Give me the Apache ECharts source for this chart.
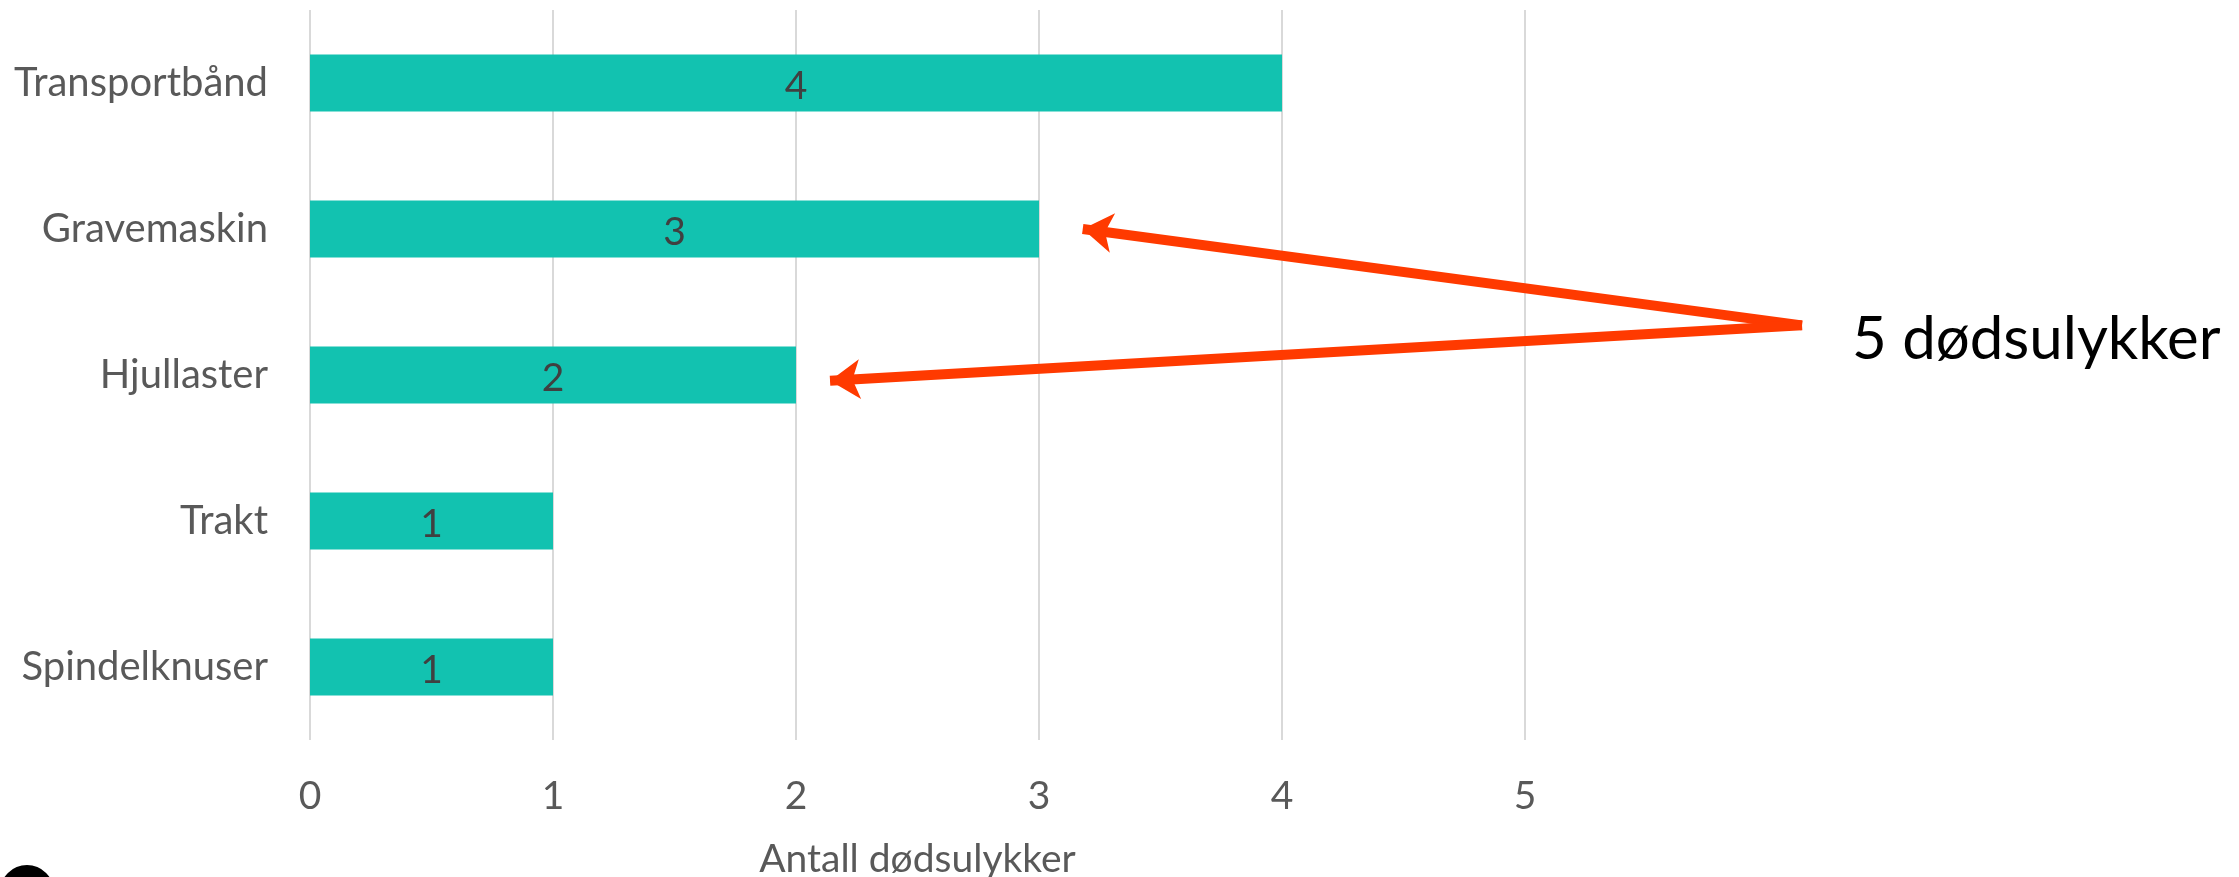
<!DOCTYPE html>
<html>
<head>
<meta charset="utf-8">
<script src="https://cdn.jsdelivr.net/npm/echarts@6/dist/echarts.min.js"></script>
<style>
html,body{margin:0;padding:0;background:#fff;}
#c{width:2239px;height:877px;}
</style>
</head>
<body>
<div id="c"></div>
<script>
const categories = ['Transportbånd', 'Gravemaskin', 'Hjullaster', 'Trakt', 'Spindelknuser'];
const values = [4, 3, 2, 1, 1];
const xMin = 0, xMax = 5, xInterval = 1;
const axisTitle = 'Antall dødsulykker';
const annotationText = '5 dødsulykker';
// arrows in data space: x value, y in band units (category i centre = i + 0.5)
const arrowFrom = [6.14, 2.16];
const arrowTo1 = [3.18, 1.50];
const arrowTo2 = [2.14, 2.54];

const FONT = 'Lato';
const chart = echarts.init(document.getElementById('c'));
chart.setOption({
  animation: false,
  backgroundColor: '#fff',
  grid: { left: 310, right: 714, top: 10, bottom: 137, containLabel: false, outerBoundsMode: 'none' },
  xAxis: {
    type: 'value', min: xMin, max: xMax, interval: xInterval,
    name: axisTitle, nameLocation: 'middle', nameGap: 100,
    nameTextStyle: { fontFamily: FONT, fontSize: 39, color: '#595959' },
    axisLine: { show: false }, axisTick: { show: false },
    axisLabel: { fontFamily: FONT, fontSize: 39, color: '#595959', margin: 37 },
    splitLine: { show: true, lineStyle: { color: '#d9d9d9', width: 2 } }
  },
  yAxis: [{
    type: 'category', data: categories, inverse: true,
    axisLine: { show: false }, axisTick: { show: false },
    axisLabel: { fontFamily: FONT, fontSize: 40, color: '#595959', margin: 42 },
    splitLine: { show: false }
  }, {
    type: 'value', min: 0, max: categories.length, inverse: true, show: false
  }],
  series: [{
    type: 'bar', data: values, barWidth: 57,
    itemStyle: { color: '#12c2b0' },
    label: { show: true, position: 'inside', fontFamily: FONT, fontSize: 39, color: '#404040', offset: [0, 3] }
  }, {
    type: 'lines', coordinateSystem: 'cartesian2d', xAxisIndex: 0, yAxisIndex: 1,
    clip: false, silent: true,
    symbol: ['none', 'arrow'], symbolSize: 30,
    lineStyle: { color: '#ff3a00', width: 10, opacity: 1, curveness: 0 },
    data: [
      { coords: [arrowFrom, arrowTo1] },
      { coords: [arrowFrom, arrowTo2] }
    ]
  }],
  graphic: [
    { type: 'text', left: 1852, top: 340 - 30,
      style: { text: annotationText, fontFamily: FONT, fontSize: 60, fill: '#000' } },
    { type: 'ring', shape: { cx: 27, cy: 892, r: 27, r0: 13 }, style: { fill: '#000' } }
  ]
});
</script>
</body>
</html>
